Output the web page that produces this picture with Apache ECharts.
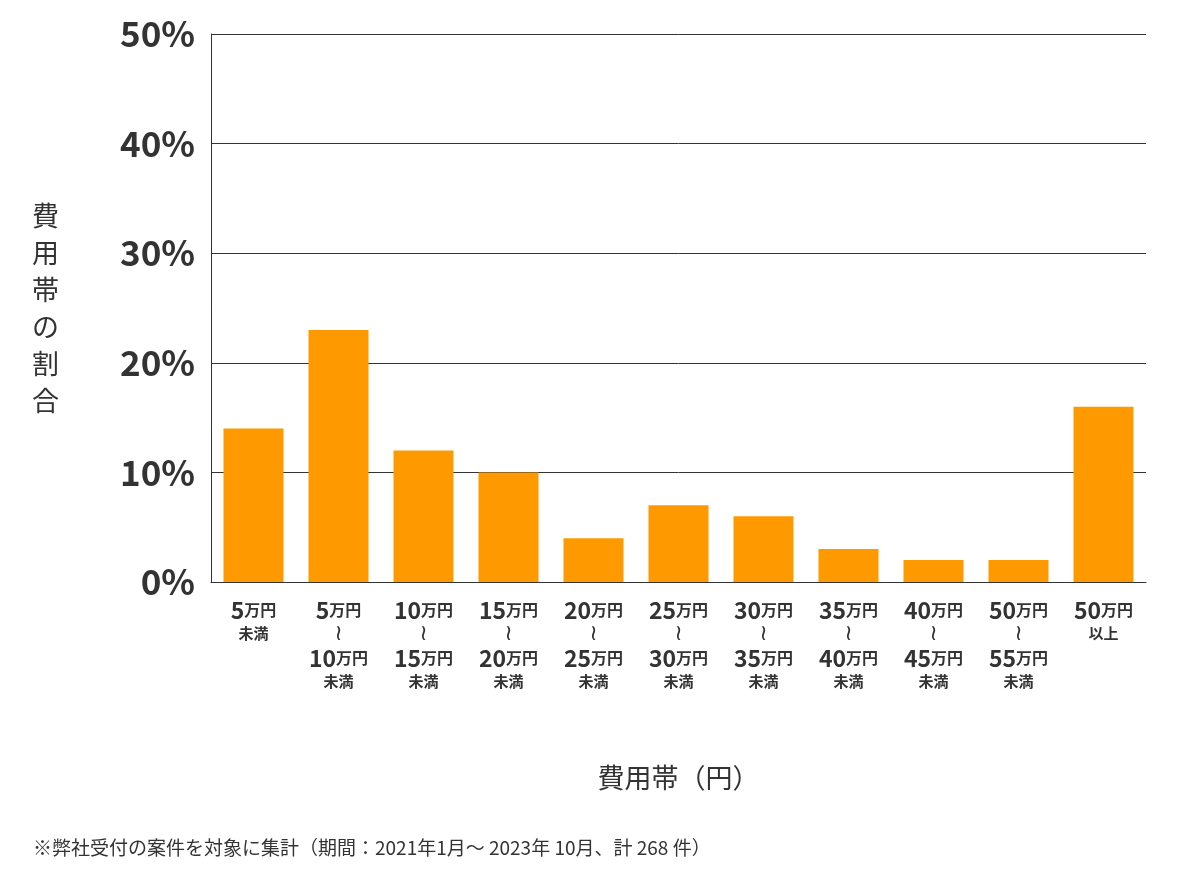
<!DOCTYPE html>
<html><head><meta charset="utf-8">
<script src="https://cdn.jsdelivr.net/npm/echarts@6/dist/echarts.min.js"></script>
<style>html,body{margin:0;padding:0;background:#fff}#c{width:1200px;height:874px}</style>
</head><body><div id="c"></div>
<script>
const categories = [
 ['5','','未満'],['5','10','未満'],['10','15','未満'],['15','20','未満'],['20','25','未満'],
 ['25','30','未満'],['30','35','未満'],['35','40','未満'],['40','45','未満'],['50','55','未満'],['50','','以上']
];
const values = [14, 23, 12, 10, 4, 7, 6, 3, 2, 2, 16];
const yTicks = [0, 10, 20, 30, 40, 50];
const F = '"Noto Sans CJK JP", "Noto Sans", sans-serif';
const labels = categories.map(c => c[1] ? `{n|${c[0]}}{u|万円}\n{w|≀}\n{n|${c[1]}}{u|万円}\n{s|${c[2]}}` : `{n|${c[0]}}{u|万円}\n{s|${c[2]}}`);
const chart = echarts.init(document.getElementById('c'));
chart.setOption({
  animation: false,
  grid: {left: 211, right: 54, top: 34, bottom: 292},
  xAxis: {
    type: 'category', data: labels,
    axisTick: {show: false}, axisLine: {lineStyle: {color: '#333'}},
    axisLabel: {interval: 0, margin: 14, color: '#333', fontFamily: F, lineHeight: 26,
      rich: {n: {fontSize: 23, fontWeight: 'bold', fontFamily: F, color:'#333', lineHeight: 28},
             u: {fontSize: 16, fontWeight: 'bold', fontFamily: F, color:'#333', lineHeight: 28},
             s: {fontSize: 15, fontWeight: 'bold', fontFamily: F, color:'#333', lineHeight: 18},
             w: {fontSize: 22, fontFamily: 'DejaVu Sans', color:'#333', lineHeight: 20}}},
    name: '費用帯（円）', nameLocation: 'middle', nameGap: 182,
    nameTextStyle: {fontSize: 27, color: '#333', fontFamily: F}
  },
  yAxis: {
    type: 'value', min: 0, max: 50, interval: 10,
    axisLine: {show: true, lineStyle: {color: '#333'}},
    splitLine: {lineStyle: {color: '#333'}},
    axisLabel: {formatter: v => yTicks.includes(v) ? v + '%' : '', fontSize: 35, fontWeight: 'bold', color: '#333', fontFamily: F, margin: 16},
    name: '費\n用\n帯\nの\n割\n合', nameLocation: 'middle', nameGap: 152, nameRotate: 0,
    nameTextStyle: {fontSize: 27, color: '#333', fontFamily: F, lineHeight: 37}
  },
  series: [{type: 'bar', data: values, barWidth: 60, itemStyle: {color: '#FF9900'}}],
  graphic: [{type: 'text', left: 33, top: 838, style: {text: '※弊社受付の案件を対象に集計（期間：2021年1月～ 2023年 10月、計 268 件）', fontSize: 19, fill: '#333', fontFamily: F}}]
});
</script></body></html>
